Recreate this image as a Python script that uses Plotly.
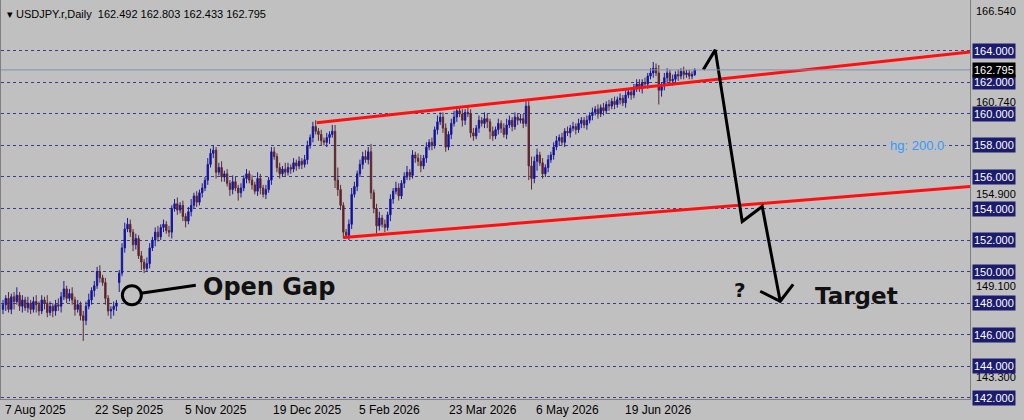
import plotly.graph_objects as go

# daily closes, 7 Aug 2025 onward (bar index = trading day)
closes = [
    147.9, 148.3, 147.6, 148.4, 148.1, 148.5, 147.8, 148.2, 147.7, 148.0,
    147.6, 148.1, 147.9, 147.5, 148.2, 148.0, 147.4, 147.8, 147.5, 147.9,
    147.8, 148.4, 148.9, 148.3, 148.6, 148.2, 147.6, 147.9, 147.2, 146.9,
    147.8, 148.2, 148.8, 149.1, 150.0, 149.6, 149.3, 148.3, 147.5, 147.6,
    147.8, 148.0, 149.9, 151.5, 152.7, 153.0, 152.5, 151.7, 152.1, 151.0,
    150.6, 150.2, 150.5, 151.5, 152.0, 152.5, 152.2, 152.8, 153.0, 152.6,
    152.5, 154.0, 154.3, 153.9, 154.2, 153.5, 153.2, 153.8, 154.2, 154.8,
    154.4, 155.0, 155.3, 155.8, 156.8, 157.5, 157.7, 156.3, 156.6, 156.0,
    156.2, 155.6, 155.2, 155.7, 155.3, 155.0, 155.3, 155.9, 156.2, 155.8,
    155.5, 155.1, 155.9, 155.3, 154.9, 155.2, 155.8, 157.6, 157.3, 156.6,
    156.2, 156.5, 156.3, 156.6, 156.5, 156.9, 156.7, 157.0, 156.8, 157.1,
    158.0, 158.5, 159.2, 158.9, 158.7, 158.3, 158.2, 158.5, 158.7, 158.9,
    155.8, 155.2, 154.2, 152.5, 152.3, 153.0, 154.9, 155.4, 156.2, 156.8,
    157.3, 157.1, 157.6, 155.0, 154.0, 152.9, 153.4, 153.0, 152.8, 153.6,
    154.6, 155.1, 155.3, 154.8, 155.6, 156.0, 156.3, 156.1, 157.4, 157.2,
    157.0, 156.7, 157.2, 157.9, 158.2, 158.0, 159.0, 159.5, 159.8, 159.1,
    157.9, 158.7, 159.4, 159.8, 160.2, 160.0, 159.6, 160.1, 160.0, 158.8,
    158.6, 159.1, 159.6, 159.4, 159.7, 159.5, 158.9, 158.6, 159.0, 159.4,
    159.1, 158.7, 159.3, 159.6, 159.2, 159.8, 159.6, 159.7, 159.4, 160.5,
    156.7, 155.9, 157.0, 157.4, 156.9, 156.2, 156.6, 157.1, 157.4, 157.9,
    158.3, 158.5, 158.2, 158.9, 158.8, 159.1, 159.2, 159.0, 159.4, 159.6,
    159.3, 159.6, 159.9, 160.1, 160.3, 160.0, 160.4, 160.2, 160.6, 160.5,
    160.8, 160.6, 160.9, 161.0, 160.7, 161.2, 161.4, 161.2, 161.7, 161.9,
    161.6, 162.0, 161.9, 162.4, 162.6, 162.9, 162.6, 161.5, 161.8, 162.3,
    162.6, 162.1, 162.2, 162.5, 162.4, 162.7, 162.5, 162.6, 162.4, 162.5,
    162.795,
]
first_open = 147.6
gap_open = {42: 149.3}

# wick lengths in tenths of a yen
wick_up = [
    3, 2, 4, 2, 3, 5, 2, 3, 2, 4, 2, 3, 4, 2, 3, 2, 5, 3, 2, 3,
    4, 3, 5, 2, 3, 4, 2, 3, 2, 3, 3, 4, 2, 3, 3, 4, 2, 3, 2, 2,
    3, 2, 2, 3, 4, 4, 3, 2, 3, 2, 3, 2, 4, 3, 2, 3, 4, 2, 3, 2,
    3, 2, 3, 4, 2, 3, 2, 3, 4, 2, 3, 2, 3, 2, 4, 3, 3, 2, 3, 4,
    2, 3, 2, 4, 3, 2, 3, 2, 3, 2, 3, 2, 4, 3, 2, 3, 2, 3, 3, 2,
    3, 2, 4, 3, 2, 3, 2, 3, 2, 3, 3, 2, 3, 4, 2, 3, 2, 3, 2, 4,
    4, 8, 3, 2, 2, 3, 4, 3, 2, 3, 3, 4, 3, 5, 2, 3, 4, 2, 3, 2,
    3, 2, 4, 3, 2, 3, 4, 2, 3, 2, 3, 4, 2, 3, 2, 3, 2, 4, 3, 3,
    3, 2, 3, 4, 3, 2, 3, 2, 4, 3, 3, 2, 3, 2, 4, 3, 2, 3, 2, 3,
    2, 3, 4, 3, 2, 3, 2, 3, 3, 3, 3, 6, 3, 4, 2, 3, 2, 3, 2, 3,
    3, 2, 3, 2, 3, 2, 3, 2, 3, 2, 2, 3, 2, 3, 2, 3, 2, 3, 2, 3,
    2, 3, 2, 3, 2, 3, 2, 3, 2, 3, 3, 2, 3, 2, 3, 4, 3, 5, 2, 3,
    3, 2, 3, 2, 3, 2, 3, 2, 2, 2, 1,
]
wick_dn = [
    3, 4, 2, 3, 5, 2, 3, 4, 2, 3, 3, 2, 5, 3, 2, 4, 3, 2, 4, 3,
    3, 4, 2, 3, 2, 3, 4, 2, 3, 13, 3, 2, 3, 4, 2, 3, 2, 4, 3, 5,
    4, 3, 6, 2, 3, 2, 3, 4, 3, 2, 5, 3, 2, 3, 2, 4, 3, 2, 3, 2,
    3, 4, 2, 3, 2, 3, 4, 2, 3, 2, 3, 2, 3, 2, 3, 2, 3, 4, 2, 3,
    3, 2, 4, 3, 2, 5, 3, 2, 3, 2, 3, 2, 3, 4, 2, 3, 2, 3, 2, 3,
    3, 2, 3, 2, 3, 2, 3, 2, 3, 2, 3, 2, 3, 2, 4, 3, 2, 3, 4, 2,
    5, 4, 3, 4, 2, 3, 3, 2, 3, 2, 3, 2, 3, 4, 3, 5, 3, 2, 3, 2,
    4, 3, 2, 3, 2, 3, 2, 3, 2, 3, 3, 4, 2, 3, 2, 3, 2, 3, 2, 3,
    3, 2, 3, 2, 3, 2, 4, 3, 2, 3, 3, 2, 3, 2, 3, 4, 5, 3, 2, 3,
    3, 2, 3, 2, 3, 2, 3, 2, 3, 2, 9, 7, 3, 6, 2, 3, 2, 3, 2, 3,
    2, 3, 2, 3, 2, 3, 2, 3, 2, 3, 2, 3, 2, 3, 2, 3, 2, 3, 2, 3,
    2, 3, 2, 3, 2, 3, 2, 3, 2, 3, 2, 3, 2, 3, 2, 3, 2, 9, 4, 3,
    3, 2, 3, 2, 3, 2, 3, 2, 2, 2, 1,
]

date_labels = ["7 Aug 2025", "22 Sep 2025", "5 Nov 2025", "19 Dec 2025",
               "5 Feb 2026", "23 Mar 2026", "6 May 2026", "19 Jun 2026"]
date_bars = [0, 32.5, 65, 97, 128, 160.5, 192, 224]

grid_prices = [164, 162, 160, 158, 156, 154, 152, 150, 148, 146, 144, 142]
plain_prices = [166.54, 160.74, 154.9, 149.1, 143.3]
last_price = 162.795

opens, highs, lows = [], [], []
for i, c in enumerate(closes):
    o = first_open if i == 0 else gap_open.get(i, closes[i - 1])
    opens.append(o)
    highs.append(max(o, c) + wick_up[i] / 10)
    lows.append(min(o, c) - wick_dn[i] / 10)
bars = list(range(len(closes)))


# pixel helpers for the hand-drawn annotations
def bx(px):
    return (px - 2) / 2.77


def py(y):
    return 167.23 - y / 15.8


fig = go.Figure()
fig.add_trace(go.Candlestick(
    x=bars, open=opens, high=highs, low=lows, close=closes,
    increasing=dict(line=dict(color="#1a1a9a", width=1), fillcolor="#0000c8"),
    decreasing=dict(line=dict(color="#5a2a30", width=1), fillcolor="#7a0a20"),
    whiskerwidth=0, showlegend=False, hoverinfo="skip"))


def line(pts, color, width):
    fig.add_trace(go.Scatter(x=[bx(p[0]) for p in pts], y=[py(p[1]) for p in pts],
                             mode="lines", line=dict(color=color, width=width),
                             showlegend=False, hoverinfo="skip"))


# current price line
fig.add_hline(y=last_price, line=dict(color="#8090b0", width=1))

# channel
line([(316, 123), (970, 52)], "#ff1010", 3)
line([(343, 238), (970, 187)], "#ff1010", 3)

# projection arrow
line([(703, 70), (715, 50), (742, 222), (762, 207), (780, 302)], "#000000", 3)
line([(760, 292), (780, 302), (793, 285)], "#000000", 3)

# open gap marker
line([(140, 294), (195, 286)], "#000000", 3)
fig.add_trace(go.Scatter(x=[bx(131)], y=[py(296)], mode="markers",
                         marker=dict(symbol="circle-open", size=19, color="#000000",
                                     line=dict(color="#000000", width=3)),
                         showlegend=False, hoverinfo="skip"))

ann = []
ann.append(dict(x=bx(200), y=py(288), text="<b>Open Gap</b>", xanchor="left",
                font=dict(family="DejaVu Sans", size=24, color="#111111")))
ann.append(dict(x=bx(813), y=py(297), text="<b>Target</b>", xanchor="left",
                font=dict(family="DejaVu Sans", size=23, color="#111111")))
ann.append(dict(x=bx(740), y=py(291), text="<b>?</b>",
                font=dict(family="DejaVu Sans", size=20, color="#111111")))
ann.append(dict(x=bx(888), y=py(146), text="hg: 200.0", xanchor="left",
                bgcolor="#c0c0c0",
                font=dict(family="Arial", size=13, color="#3399ff")))
ann.append(dict(x=0.004, y=0.985, xref="paper", yref="paper", xanchor="left",
                yanchor="top",
                text="▾ USDJPY.r,Daily  162.492 162.803 162.433 162.795",
                font=dict(family="Arial", size=11, color="#000000")))

for lab, b in zip(date_labels, date_bars):
    ann.append(dict(x=b, y=0, yref="paper", text=lab, xanchor="left",
                    yanchor="top", yshift=-2,
                    font=dict(family="Arial", size=12, color="#000000")))
for p in plain_prices:
    ann.append(dict(x=1, xref="paper", y=p, text=f"{p:.3f}", xanchor="left",
                    xshift=4, font=dict(family="Arial", size=11, color="#000000")))
for p in grid_prices:
    ann.append(dict(x=1, xref="paper", y=p, text=f"{p:.3f}", xanchor="left",
                    xshift=2, bgcolor="#1c1c6e", borderpad=1,
                    font=dict(family="Arial", size=11, color="#ffffff")))
ann.append(dict(x=1, xref="paper", y=last_price, text=f"{last_price:.3f}",
                xanchor="left", xshift=2, bgcolor="#000000", borderpad=1,
                font=dict(family="Arial", size=11, color="#ffffff")))
for a in ann:
    a.setdefault("showarrow", False)

fig.update_layout(
    width=1024, height=420,
    margin=dict(l=1, r=54, t=0, b=21),
    paper_bgcolor="#c0c0c0", plot_bgcolor="#c0c0c0",
    annotations=ann,
    xaxis=dict(range=[bx(0), bx(970)], showgrid=False, showticklabels=False,
               zeroline=False, rangeslider=dict(visible=False),
               showline=True, mirror=True, linecolor="#808080", linewidth=1),
    yaxis=dict(range=[py(400), py(0)], tickvals=grid_prices, showticklabels=False,
               gridcolor="#3a3a90", griddash="dot", gridwidth=1, zeroline=False,
               showline=True, mirror=True, linecolor="#808080", linewidth=1),
)

fig.write_html("out.html", config={"displayModeBar": False},
               post_script="document.body.style.margin='0';"
                           "document.body.style.background='#c0c0c0';")
